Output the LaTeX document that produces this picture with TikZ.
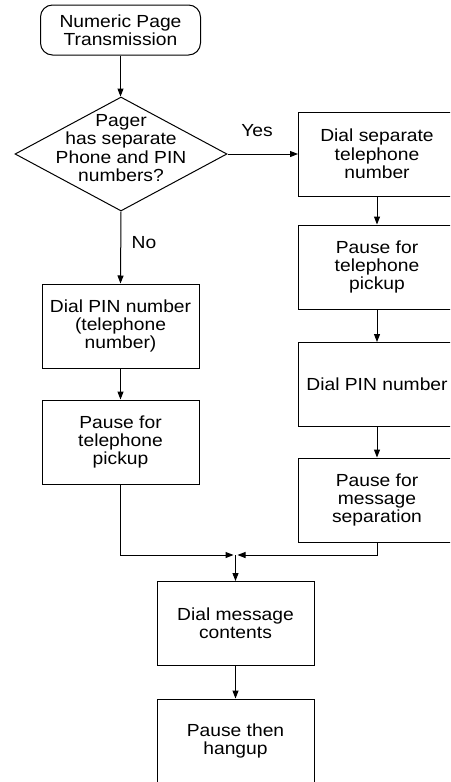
\documentclass[tikz,border=0pt]{standalone}
\usepackage{fontspec}
\setmainfont{Liberation Sans}[FakeStretch=1.1]
\usetikzlibrary{shapes.geometric,arrows.meta}
\begin{document}
\begin{tikzpicture}[x=1pt,y=-1pt,
  font=\fontsize{17.5}{18.3}\selectfont, line width=1pt,
  box/.style={draw, rectangle, minimum width=157pt, minimum height=84pt, inner sep=0pt, align=center},
  startbox/.style={draw, rectangle, rounded corners=12pt, minimum width=160pt, minimum height=50pt, inner sep=0pt, align=center},
  decision/.style={draw, diamond, minimum width=212pt, minimum height=114pt, inner sep=0pt},
  flow/.style={-{Triangle[length=8pt,width=6pt]}},
  lbl/.style={inner sep=0pt, align=center}]
% page frame; boxes on the right and bottom run past the edge
\useasboundingbox (0,0) rectangle (450,782);
\fill[white] (0,0) rectangle (450,782);
\clip (0,0) rectangle (450,782);

% start and decision
\node[startbox] (start) at (120.5,30) {Numeric Page\\Transmission};
\node[decision] (dec) at (121,154) {};
\node[lbl] (dectext) at (121,148) {Pager\\has separate\\Phone and PIN\\numbers?};

% "No" branch
\node[box] (pinA)   at (120.5,326) {Dial PIN number\\(telephone\\number)};
\node[box] (pauseA) at (120.5,442) {Pause for\\telephone\\pickup};

% "Yes" branch
\node[box] (dialB)  at (377,154)   {Dial separate\\telephone\\number};
\node[box] (pauseB) at (377,267)   {Pause for\\telephone\\pickup};
\node[box] (pinB)   at (377,384.5) {Dial PIN number};
\node[box] (sepB)   at (377,500)   {Pause for\\message\\separation};

% common tail
\node[box] (msg)  at (235.5,623.5) {Dial message\\contents};
\node[box] (hang) at (235.5,741)   {Pause then\\hangup};

\coordinate (join) at (235.5,555);

% branch labels
\node[lbl] (yes) at (257,131) {Yes};
\node[lbl] (no)  at (144,243) {No};

% connectors
\draw[flow] (start) -- (start |- dec.north);
\draw[flow] (dec.east) -- (dialB.west);
\draw[flow] (dec.south) -- (pinA.north);
\draw[flow] (pinA) -- (pauseA);
\draw[flow] (dialB) -- (pauseB);
\draw[flow] (pauseB) -- (pinB);
\draw[flow] (pinB) -- (sepB);
\draw[flow] (pauseA.south) |- ([xshift=-2pt]join);
\draw[flow] (sepB.south) |- ([xshift=2pt]join);
\draw[flow] (join) -- (msg.north);
\draw[flow] (msg) -- (hang);
\end{tikzpicture}
\end{document}
